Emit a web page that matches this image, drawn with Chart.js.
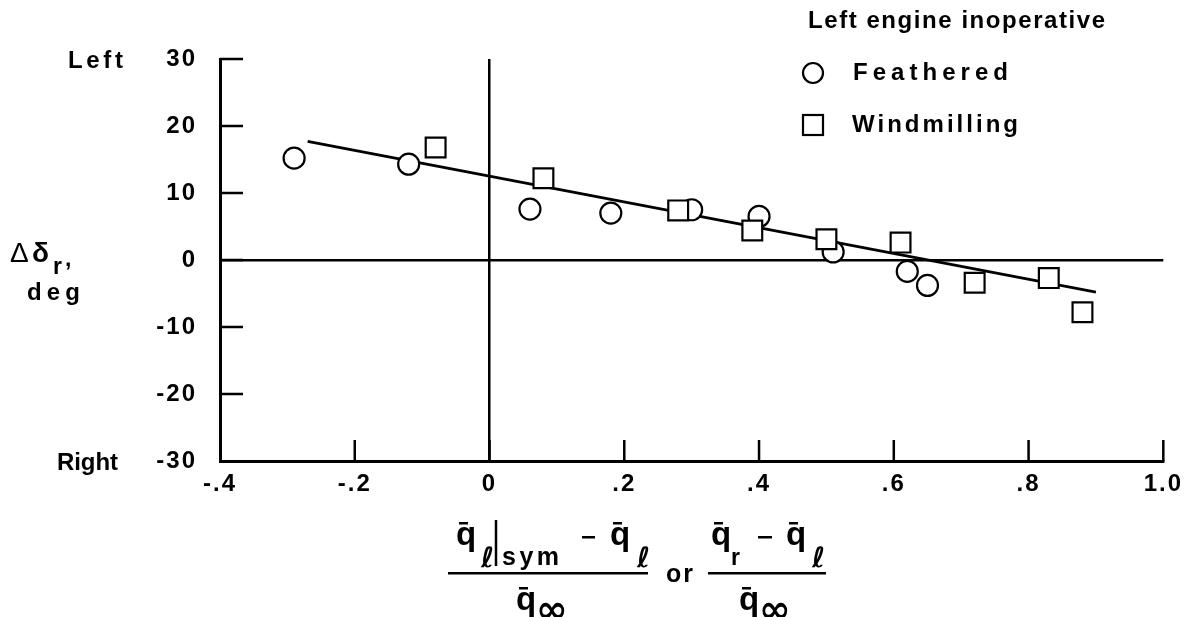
<!DOCTYPE html>
<html>
<head>
<meta charset="utf-8">
<script src="https://cdn.jsdelivr.net/npm/chart.js@4/dist/chart.umd.min.js"></script>
<style>
  body { margin: 0; background: #fff; }
  canvas { display: block; }
</style>
</head>
<body>
<canvas id="chart" width="1189" height="617"></canvas>
<script>
// data
var featheredX = [-0.29, -0.12, 0.06, 0.18, 0.30, 0.40, 0.51, 0.62, 0.65];
var featheredY = [15.2, 14.3, 7.6, 7.0, 7.5, 6.5, 1.2, -1.7, -3.8];
var windmillX = [-0.08, 0.08, 0.28, 0.39, 0.50, 0.61, 0.72, 0.83, 0.88];
var windmillY = [16.8, 12.2, 7.4, 4.4, 3.1, 2.6, -3.4, -2.7, -7.8];
var fitX = [-0.27, 0.90];
var fitY = [17.7, -4.8];
var xTicks = [-0.4, 1.0, 0.2];   // min, max, step
var yTicks = [-30, 30, 10];

var FONT = '"Liberation Sans", Arial, sans-serif';
var MATH = '"DejaVu Sans", sans-serif';

function pts(xs, ys) {
    return xs.map(function (v, i) { return { x: v, y: ys[i] }; });
}

function xLabel(v) {
    if (Math.abs(v) < 1e-9) return '0';
    if (Math.abs(v - 1) < 1e-9) return '1.0';
    return v.toFixed(1).replace('0.', '.');
}

// text with letter spacing stretched to a given ink width
function spaced(ctx, str, x, y, w) {
    ctx.letterSpacing = '0px';
    var nat = ctx.measureText(str).width;
    var ls = str.length > 1 ? (w - nat) / (str.length - 1) : 0;
    ctx.letterSpacing = ls + 'px';
    ctx.textAlign = 'left';
    ctx.fillText(str, x, y);
    ctx.letterSpacing = '0px';
}

function qbar(ctx, x, base) {
    ctx.font = 'bold 33px ' + FONT;
    ctx.textBaseline = 'alphabetic';
    ctx.textAlign = 'left';
    ctx.fillText('q', x - 2, base);
    ctx.fillRect(x + 1, base - 23, 9, 2.5);
}

function ell(ctx, x, base) {
    ctx.font = 'bold 28px ' + MATH;
    ctx.fillText('\u2113', x - 1, base);
}

function inf(ctx, x, base) {
    ctx.font = 'bold 38px ' + MATH;
    ctx.fillText('\u221e', x - 1, base);
}

var tickMarks = {
    id: 'tickMarks',
    beforeDraw: function (chart) {
        chart.ctx.letterSpacing = '2px';
    },
    afterDraw: function (chart) {
        var ctx = chart.ctx, area = chart.chartArea;
        var x = chart.scales.x, y = chart.scales.y;
        ctx.save();
        ctx.letterSpacing = '0px';
        ctx.strokeStyle = '#000';
        ctx.lineWidth = 2.5;
        ctx.beginPath();
        y.ticks.forEach(function (t) {
            if (Math.abs(t.value - y.min) < 1e-9) return;
            var py = y.getPixelForValue(t.value);
            ctx.moveTo(area.left, py);
            ctx.lineTo(area.left + 23, py);
        });
        x.ticks.forEach(function (t) {
            if (Math.abs(t.value - x.min) < 1e-9) return;
            var px = x.getPixelForValue(t.value);
            ctx.moveTo(px, area.bottom);
            ctx.lineTo(px, area.bottom - 21);
        });
        ctx.stroke();

        ctx.fillStyle = '#000';
        ctx.textBaseline = 'middle';
        ctx.font = 'bold 24px ' + FONT;
        spaced(ctx, 'Left', 68, 61, 55);
        spaced(ctx, 'Right', 57, 463, 61);

        // legend
        spaced(ctx, 'Left engine inoperative', 808, 21, 297);
        spaced(ctx, 'Feathered', 853, 73, 155);
        spaced(ctx, 'Windmilling', 852, 125, 166);
        ctx.lineWidth = 2.2;
        ctx.beginPath();
        ctx.arc(813, 73, 10, 0, Math.PI * 2);
        ctx.stroke();
        ctx.strokeRect(803, 115, 20, 20);

        // y title
        ctx.textBaseline = 'alphabetic';
        ctx.font = '28px ' + FONT;
        ctx.fillText('\u0394', 10, 262);
        ctx.font = 'bold 28px ' + FONT;
        ctx.fillText('\u03b4', 32, 262);
        ctx.font = 'bold 23px ' + FONT;
        ctx.fillText('r', 53, 274);
        ctx.fillText(',', 65, 266);
        ctx.font = 'bold 24px ' + FONT;
        spaced(ctx, 'deg', 27, 300, 53);

        // x title: two fractions
        ctx.lineWidth = 2.5;
        qbar(ctx, 458, 545);
        ell(ctx, 482, 567);
        ctx.beginPath();
        ctx.moveTo(496, 520); ctx.lineTo(496, 566);
        ctx.stroke();
        ctx.font = 'bold 25px ' + FONT;
        spaced(ctx, 'sym', 502, 565, 57);
        ctx.fillRect(582, 536, 13, 2.5);
        qbar(ctx, 612, 545);
        ell(ctx, 638, 567);
        ctx.fillRect(448, 572, 200, 2.5);
        qbar(ctx, 518, 610);
        inf(ctx, 537, 622);

        ctx.font = 'bold 25px ' + FONT;
        ctx.letterSpacing = '2px';
        ctx.fillText('or', 666, 582);
        ctx.letterSpacing = '0px';

        qbar(ctx, 713, 545);
        ctx.font = 'bold 23px ' + FONT;
        ctx.fillText('r', 731, 565);
        ctx.fillRect(758, 536, 14, 2.5);
        qbar(ctx, 788, 545);
        ell(ctx, 813, 567);
        ctx.fillRect(708, 572, 118, 2.5);
        qbar(ctx, 741, 610);
        inf(ctx, 760, 622);
        ctx.restore();
    }
};

new Chart(document.getElementById('chart'), {
    type: 'scatter',
    data: {
        datasets: [{
            label: 'Windmilling',
            data: pts(windmillX, windmillY),
            pointStyle: 'rect',
            pointRadius: 14,
            pointBorderWidth: 2.2,
            pointBorderColor: '#000',
            pointBackgroundColor: '#fff'
        }, {
            label: 'Feathered',
            data: pts(featheredX, featheredY),
            pointStyle: 'circle',
            pointRadius: 10.5,
            pointBorderWidth: 2.2,
            pointBorderColor: '#000',
            pointBackgroundColor: '#fff'
        }, {
            label: 'fit',
            data: pts(fitX, fitY),
            showLine: true,
            borderColor: '#000',
            borderWidth: 2.7,
            pointRadius: 0
        }]
    },
    options: {
        responsive: false,
        devicePixelRatio: 1,
        animation: false,
        layout: { padding: { left: 0, top: 59, right: 22, bottom: 0 } },
        plugins: { legend: { display: false }, tooltip: { enabled: false } },
        scales: {
            x: {
                type: 'linear',
                min: xTicks[0], max: xTicks[1],
                afterFit: function (s) { s.height = 156; },
                ticks: {
                    stepSize: xTicks[2],
                    color: '#000',
                    padding: 9,
                    font: { family: FONT, size: 24, weight: 'bold' },
                    callback: function (v) { return xLabel(v); }
                },
                grid: {
                    drawTicks: false,
                    lineWidth: 2.5,
                    color: function (c) {
                        return c.tick && Math.abs(c.tick.value) < 1e-9 ? '#000' : 'rgba(0,0,0,0)';
                    }
                },
                border: { display: true, color: '#000', width: 3 }
            },
            y: {
                min: yTicks[0], max: yTicks[1],
                afterFit: function (s) { s.width = 220; },
                ticks: {
                    stepSize: yTicks[2],
                    color: '#000',
                    padding: 23,
                    font: { family: FONT, size: 24, weight: 'bold' }
                },
                grid: {
                    drawTicks: false,
                    lineWidth: 2.5,
                    color: function (c) {
                        return c.tick && Math.abs(c.tick.value) < 1e-9 ? '#000' : 'rgba(0,0,0,0)';
                    }
                },
                border: { display: true, color: '#000', width: 3 }
            }
        }
    },
    plugins: [tickMarks]
});
</script>
</body>
</html>
